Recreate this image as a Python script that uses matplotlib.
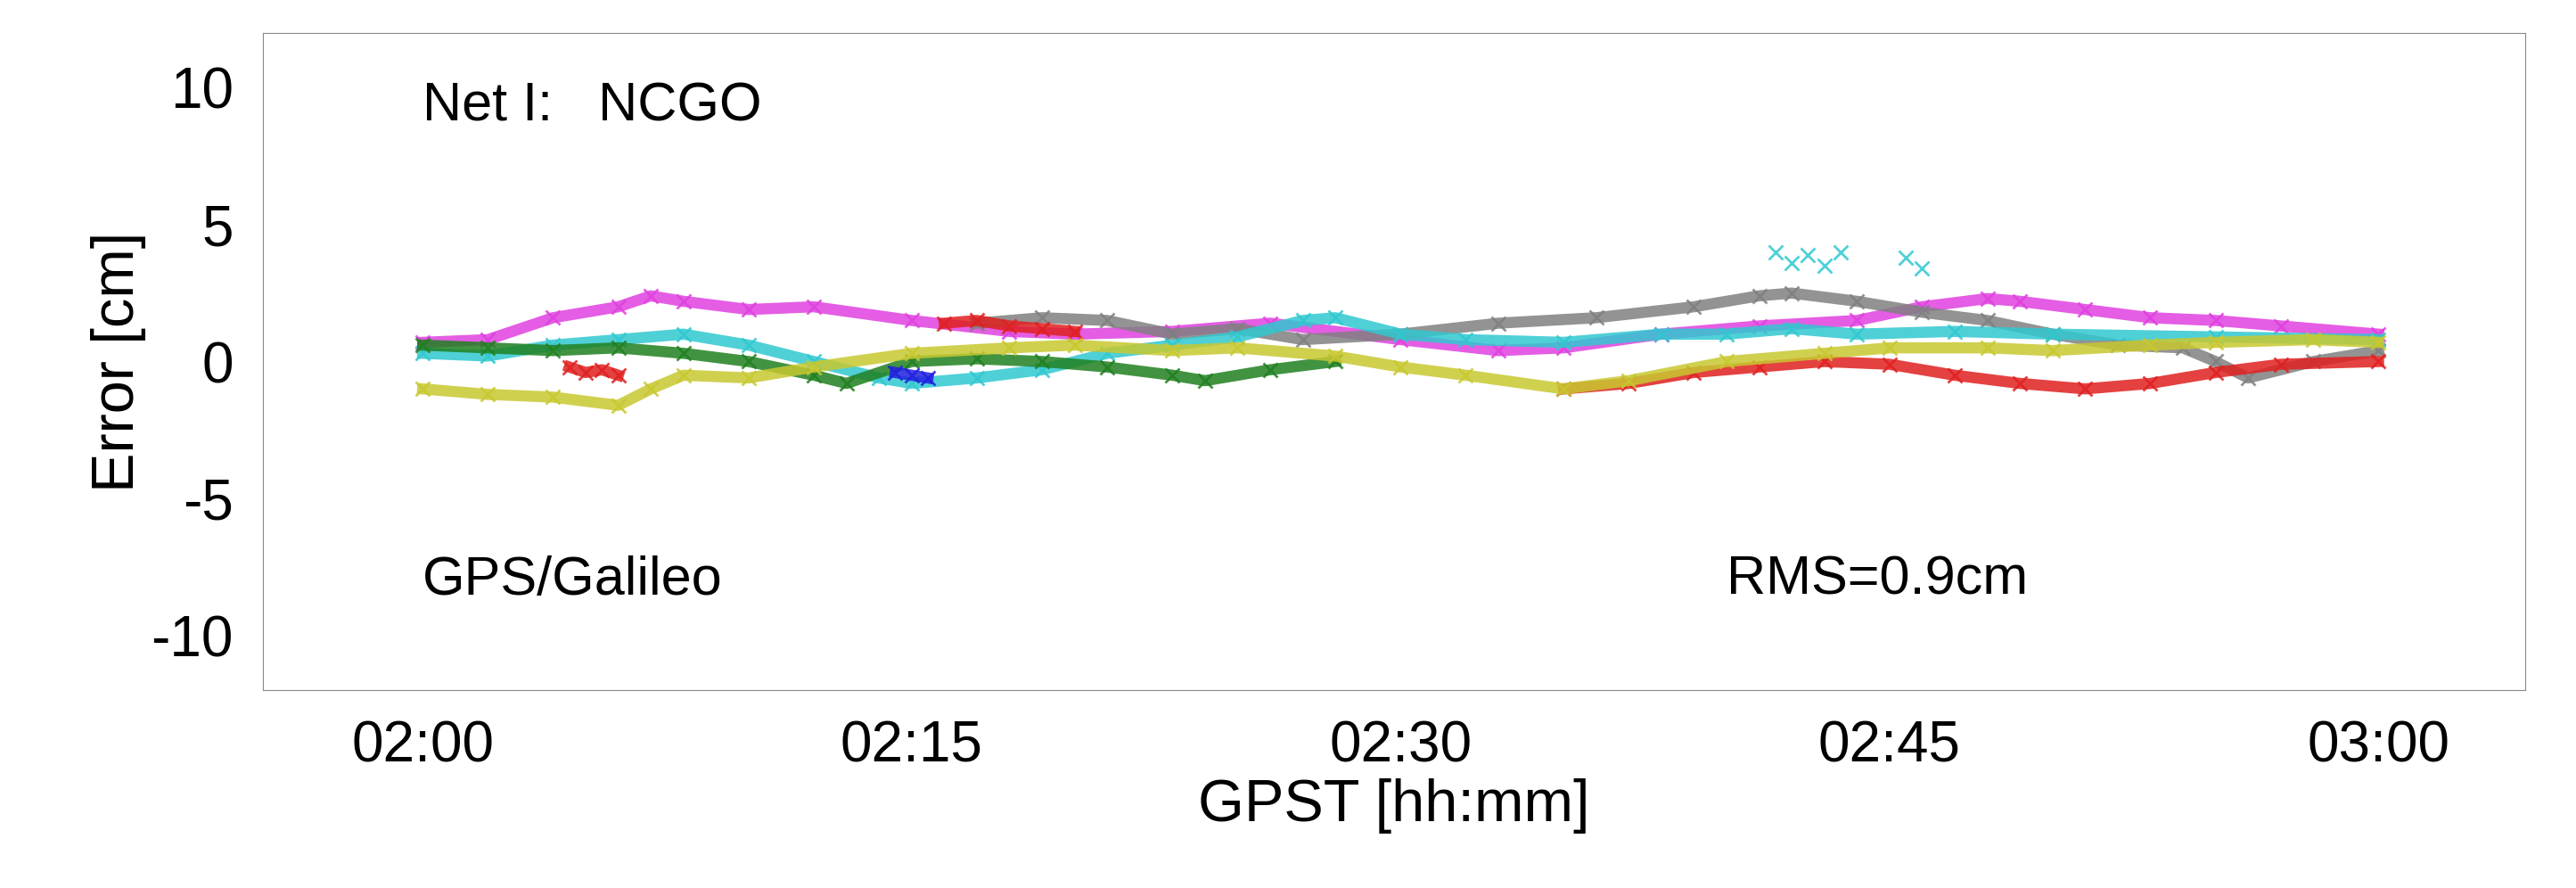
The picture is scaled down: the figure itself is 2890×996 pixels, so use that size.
import matplotlib
matplotlib.use("Agg")
import matplotlib.pyplot as plt

plt.rcParams['font.family'] = ['Liberation Sans', 'DejaVu Sans']
plt.rcParams['axes.unicode_minus'] = False

# minutes after 02:00 and error values [cm]
mag_t = [0, 2, 4, 6, 7, 8, 10, 12, 15, 18, 20, 23, 26, 30, 33, 35, 38, 41, 44, 46, 48, 49, 51, 53, 55, 57, 60]
mag_v = [0.7, 0.8, 1.6, 2.0, 2.4, 2.2, 1.9, 2.0, 1.5, 1.1, 1.0, 1.1, 1.4, 0.8, 0.4, 0.5, 1.0, 1.3, 1.5, 2.0, 2.3, 2.2, 1.9, 1.6, 1.5, 1.3, 1.0]
gray_t = [17, 19, 21, 23, 25, 27, 30, 33, 36, 39, 41, 42, 44, 46, 48, 50, 52, 54, 55, 56, 58, 60]
gray_v = [1.4, 1.6, 1.5, 1.0, 1.2, 0.8, 1.0, 1.4, 1.6, 2.0, 2.4, 2.5, 2.2, 1.8, 1.5, 1.0, 0.6, 0.5, 0.0, -0.6, 0.0, 0.4]
cyan_t = [0, 2, 4, 6, 8, 10, 12, 14, 15, 17, 19, 21, 23, 25, 27, 28, 30, 32, 35, 38, 40, 42, 44, 47, 50, 55, 60]
cyan_v = [0.3, 0.2, 0.6, 0.8, 1.0, 0.6, 0.0, -0.6, -0.8, -0.6, -0.3, 0.3, 0.6, 0.9, 1.5, 1.6, 1.0, 0.8, 0.7, 1.0, 1.0, 1.2, 1.0, 1.1, 1.0, 0.9, 0.8]
cyan_out_t = [41.5, 42, 42.5, 43, 43.5, 45.5, 46]
cyan_out_v = [4.0, 3.6, 3.9, 3.5, 4.0, 3.8, 3.4]
yel_t = [0, 2, 4, 6, 7, 8, 10, 12, 15, 18, 20, 23, 25, 28, 30, 32, 35, 37, 40, 43, 45, 48, 50, 53, 55, 58, 60]
yel_v = [-1.0, -1.2, -1.3, -1.6, -1.0, -0.5, -0.6, -0.2, 0.3, 0.5, 0.6, 0.4, 0.5, 0.2, -0.2, -0.5, -1.0, -0.7, 0.0, 0.3, 0.5, 0.5, 0.4, 0.6, 0.7, 0.8, 0.7]
grn_t = [0, 2, 4, 6, 8, 10, 12, 13, 15, 17, 19, 21, 23, 24, 26, 28]
grn_v = [0.6, 0.5, 0.4, 0.5, 0.3, 0.0, -0.5, -0.8, 0.0, 0.1, 0.0, -0.2, -0.5, -0.7, -0.3, 0.0]
red_a_t = [4.5, 5, 5.5, 6]
red_a_v = [-0.2, -0.4, -0.3, -0.5]
red_b_t = [16, 17, 18, 19, 20]
red_b_v = [1.4, 1.5, 1.3, 1.2, 1.1]
red_c_t = [35, 37, 39, 41, 43, 45, 47, 49, 51, 53, 55, 57, 60]
red_c_v = [-1.0, -0.8, -0.4, -0.2, 0.0, -0.1, -0.5, -0.8, -1.0, -0.8, -0.4, -0.1, 0.0]
blue_t = [14.5, 15, 15.5]
blue_v = [-0.4, -0.5, -0.6]

series = [
    (mag_t, mag_v, '#e040e0'), (gray_t, gray_v, '#808080'), (cyan_t, cyan_v, '#30c8d0'),
    (grn_t, grn_v, '#208020'), (red_a_t, red_a_v, '#e02020'), (red_b_t, red_b_v, '#e02020'),
    (red_c_t, red_c_v, '#e02020'), (blue_t, blue_v, '#2020e0'), (yel_t, yel_v, '#c8c830'),
    (cyan_out_t, cyan_out_v, '#30c8d0'),
]

fig = plt.figure(figsize=(28.9, 9.96), dpi=100)
ax = fig.add_axes([295/2890, 1-774/996, (2833-295)/2890, (774-37)/996])
for i, (t, v, c) in enumerate(series):
    ls = 'none' if i == len(series)-1 else '-'
    ax.plot(t, v, linestyle=ls, lw=9, color=c, alpha=0.85, marker='x', ms=12, mew=2)

ax.set_xlim(-4.9, 64.5)
ax.set_ylim(-12, 12)
ax.set_xticks([0, 15, 30, 45, 60])
ax.set_xticklabels(['02:00', '02:15', '02:30', '02:45', '03:00'])
ax.set_yticks([-10, -5, 0, 5, 10])
ax.tick_params(labelsize=46, length=0, pad=24)
ax.set_xlabel('GPST [hh:mm]', fontsize=48)
ax.set_ylabel('Error [cm]', fontsize=48)
for s in ax.spines.values():
    s.set_color('#888888')
ax.text(0, 9.3, 'Net I:   NCGO', fontsize=44, va='center')
ax.text(0, -8, 'GPS/Galileo', fontsize=44, va='center')
ax.text(40, -8, 'RMS=0.9cm', fontsize=44, va='center')
fig.savefig('out.png', dpi=100)
